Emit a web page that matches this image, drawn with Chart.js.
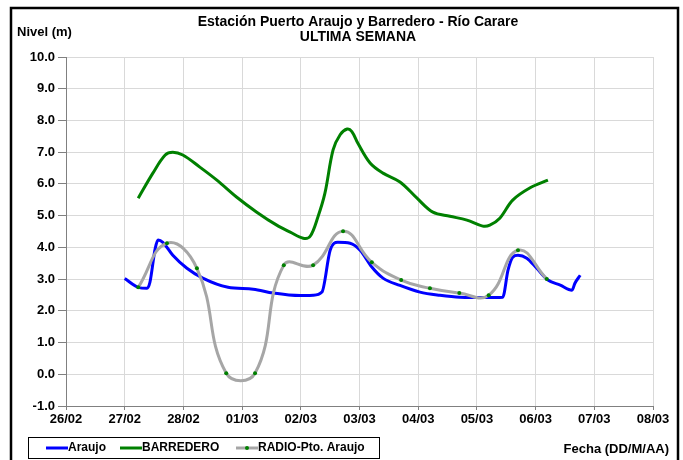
<!DOCTYPE html>
<html>
<head>
<meta charset="utf-8">
<script src="https://cdn.jsdelivr.net/npm/chart.js@4"></script>
<style>
  body { margin: 0; background: #fff; }
  #wrap { width: 683px; height: 460px; }
</style>
</head>
<body>
<div id="wrap"><canvas id="nivelChart" width="683" height="460"></canvas></div>
<script>
// x = days since 26/02
const dayLabels = ['26/02','27/02','28/02','01/03','02/03','03/03','04/03','05/03','06/03','07/03','08/03'];

const araujoDays  = [1.00, 1.23, 1.38, 1.43, 1.52, 1.57, 1.65, 1.82, 2.06, 2.33, 2.76, 3.19, 3.53, 3.99, 4.21, 4.36, 4.50, 4.63, 4.84, 5.01, 5.21, 5.40, 5.69, 6.03, 6.37, 6.71, 7.17, 7.44, 7.53, 7.61, 7.70, 7.85, 8.02, 8.21, 8.42, 8.62, 8.67, 8.76];
const araujoLevel = [3.02, 2.74, 2.71, 2.90, 3.97, 4.23, 4.16, 3.75, 3.34, 3.03, 2.74, 2.68, 2.56, 2.48, 2.49, 2.59, 3.91, 4.16, 4.13, 3.91, 3.38, 3.03, 2.80, 2.59, 2.49, 2.43, 2.42, 2.43, 3.28, 3.69, 3.75, 3.66, 3.34, 2.97, 2.81, 2.65, 2.87, 3.12];

const barrederoDays  = [1.23, 1.48, 1.69, 1.82, 1.99, 2.28, 2.57, 2.91, 3.25, 3.59, 3.82, 4.04, 4.16, 4.29, 4.41, 4.55, 4.67, 4.79, 4.87, 4.97, 5.18, 5.40, 5.69, 5.98, 6.25, 6.54, 6.83, 7.10, 7.22, 7.39, 7.61, 7.90, 8.21];
const barrederoLevel = [5.55, 6.34, 6.91, 7.00, 6.91, 6.53, 6.12, 5.58, 5.11, 4.70, 4.48, 4.29, 4.35, 4.95, 5.70, 7.07, 7.55, 7.73, 7.65, 7.29, 6.66, 6.34, 6.06, 5.55, 5.11, 4.98, 4.86, 4.67, 4.70, 4.92, 5.49, 5.87, 6.12];

const radioDays  = [1.23, 1.72, 2.23, 2.73, 3.22, 3.71, 4.21, 4.72, 5.21, 5.71, 6.20, 6.70, 7.20, 7.70, 8.19];
const radioLevel = [2.74, 4.13, 3.34, 0.03, 0.03, 3.44, 3.44, 4.51, 3.53, 2.97, 2.71, 2.56, 2.49, 3.91, 3.00];

const titleLines = ['Estación Puerto Araujo y Barredero - Río Carare', 'ULTIMA SEMANA'];
const seriesNames = ['Araujo', 'BARREDERO', 'RADIO-Pto. Araujo'];

const toPoints = (xs, ys) => xs.map((x, i) => ({ x: x, y: ys[i] }));

const FONT = '"Liberation Sans", Arial, sans-serif';
const tickFont = { family: FONT, size: 13, weight: 'bold' };

// titles, legend box and outer frame
const decorations = {
    id: 'decorations',
    beforeDraw(chart) {
        const ctx = chart.ctx;
        ctx.save();
        ctx.fillStyle = '#fff';
        ctx.fillRect(0, 0, chart.width, chart.height);
        ctx.restore();
    },
    afterDraw(chart) {
        const ctx = chart.ctx;
        ctx.save();
        ctx.strokeStyle = '#000';
        ctx.lineWidth = 2.5;
        ctx.strokeRect(11, 8, 667, 470);

        ctx.fillStyle = '#000';
        ctx.textBaseline = 'middle';
        ctx.textAlign = 'center';
        ctx.font = 'bold 14px ' + FONT;
        ctx.fillText(titleLines[0], 358, 22);
        ctx.fillText(titleLines[1], 358, 37);
        ctx.font = 'bold 13px ' + FONT;
        ctx.textAlign = 'left';
        ctx.fillText('Nivel (m)', 17, 32);
        ctx.textAlign = 'right';
        ctx.fillText('Fecha (DD/M/AA)', 669, 449);

        // legend
        ctx.font = 'bold 12px ' + FONT;
        ctx.lineWidth = 1;
        ctx.strokeStyle = '#000';
        ctx.strokeRect(28.5, 437.5, 351, 21);
        const items = [
            { x: 46, color: '#0000ff', dot: false },
            { x: 120, color: '#008000', dot: false },
            { x: 236, color: '#a6a6a6', dot: true }
        ];
        ctx.textAlign = 'left';
        items.forEach((it, i) => {
            ctx.strokeStyle = it.color;
            ctx.lineWidth = 3;
            ctx.beginPath();
            ctx.moveTo(it.x, 448);
            ctx.lineTo(it.x + 22, 448);
            ctx.stroke();
            if (it.dot) {
                ctx.fillStyle = '#008000';
                ctx.beginPath();
                ctx.arc(it.x + 11, 448, 2, 0, Math.PI * 2);
                ctx.fill();
            }
            ctx.fillStyle = '#000';
            ctx.fillText(seriesNames[i], it.x + 22, 448);
        });
        ctx.restore();
    }
};

new Chart(document.getElementById('nivelChart'), {
    type: 'line',
    data: {
        datasets: [{
            label: seriesNames[0],
            data: toPoints(araujoDays, araujoLevel),
            borderColor: '#0000ff',
            borderWidth: 3,
            pointRadius: 0,
            cubicInterpolationMode: 'monotone',
            order: 3
        }, {
            label: seriesNames[1],
            data: toPoints(barrederoDays, barrederoLevel),
            borderColor: '#008000',
            borderWidth: 3,
            pointRadius: 0,
            tension: 0.35,
            order: 2
        }, {
            label: seriesNames[2],
            data: toPoints(radioDays, radioLevel),
            borderColor: '#a6a6a6',
            borderWidth: 3,
            tension: 0.45,
            pointRadius: 2,
            pointBorderWidth: 0,
            pointBackgroundColor: '#008000',
            order: 1
        }]
    },
    options: {
        responsive: false,
        animation: false,
        layout: { padding: { left: 0, top: 57, right: 30, bottom: 0 } },
        plugins: {
            legend: { display: false },
            tooltip: { enabled: false }
        },
        scales: {
            x: {
                type: 'linear',
                min: 0,
                max: 10,
                afterFit: (s) => { s.height = 54; },
                ticks: {
                    stepSize: 1,
                    color: '#000',
                    font: tickFont,
                    padding: 2,
                    maxRotation: 0,
                    callback: (v) => dayLabels[v]
                },
                grid: { color: '#d9d9d9', tickColor: '#808080', tickLength: 4 },
                border: { color: '#808080' }
            },
            y: {
                min: -1,
                max: 10,
                afterFit: (s) => { s.width = 66; },
                ticks: {
                    stepSize: 1,
                    color: '#000',
                    font: tickFont,
                    padding: 3,
                    callback: (v) => v.toFixed(1)
                },
                grid: { color: '#d9d9d9', tickColor: '#808080', tickLength: 8 },
                border: { color: '#808080' }
            }
        }
    },
    plugins: [decorations]
});
</script>
</body>
</html>
